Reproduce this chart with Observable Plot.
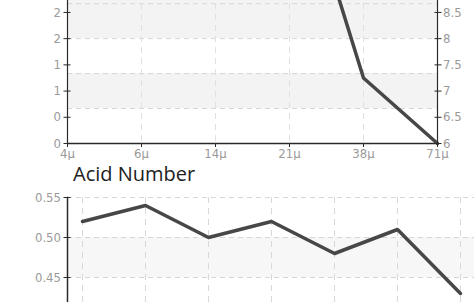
<!DOCTYPE html>
<html>
<head>
<meta charset="utf-8">
<script src="https://cdn.jsdelivr.net/npm/d3@7"></script>
<script src="https://cdn.jsdelivr.net/npm/@observablehq/plot@0.6"></script>
<style>
html,body{margin:0;padding:0;background:#fff;}
#wrap{position:relative;width:474px;height:302px;overflow:hidden;background:#fff;}
#top{position:absolute;left:0;top:-30px;}
#title{position:absolute;left:73px;top:164px;font-family:"Open Sans",sans-serif;font-size:20px;line-height:20px;color:#222;white-space:nowrap;}
#bottom{position:absolute;left:0;top:187px;}
</style>
</head>
<body>
<div id="wrap">
  <div id="top"></div>
  <div id="title">Acid Number</div>
  <div id="bottom"></div>
</div>
<script>
// ---- data: top chart (dual axis) ----
const xLabels = ["4μ", "6μ", "14μ", "21μ", "38μ", "71μ"];
const topValues = [12.4, 12.9, 12.1, 11.8, 7.25, 6.0];   // first values lie above the visible area
const rightTicks = [6, 6.5, 7, 7.5, 8, 8.5];
const leftTickLabels = ["0", "0", "1", "1", "2", "2"];
const topGridY = [6.667, 7.333, 8, 8.667];
const topBandLo = [6.667, 8];
const topBandHi = [7.333, 9.3];

// ---- data: Acid Number ----
const acidX = ["p1", "p2", "p3", "p4", "p5", "p6", "p7"];
const acidValues = [0.52, 0.54, 0.50, 0.52, 0.48, 0.51, 0.43];
const acidTicks = [0.45, 0.50, 0.55];
const acidBandLo = [0.45];
const acidBandHi = [0.50];

const font = '"DejaVu Sans Condensed","DejaVu Sans",sans-serif';
const labelColor = "#9a9a9a";
const axisColor = "#2a2a2a";
const gridColor = "#d6d6d6";
const lineColor = "#474747";

const topChart = Plot.plot({
  width: 474, height: 190,
  marginLeft: 67, marginRight: 37, marginTop: 0, marginBottom: 17,
  style: {fontFamily: font, fontSize: "13px", background: "transparent"},
  x: {type: "point", domain: xLabels, padding: 0},
  y: {domain: [6, 9.3]},
  marks: [
    Plot.rect(topBandLo, {y1: d => d, y2: (d, i) => topBandHi[i], fill: "#f3f3f3"}),
    Plot.ruleY(topGridY, {stroke: gridColor, strokeDasharray: "5,4"}),
    Plot.ruleX(xLabels.slice(1, -1), {stroke: "#e0e0e0", strokeDasharray: "6,5"}),
    Plot.line(xLabels, {x: d => d, y: (d, i) => topValues[i], stroke: lineColor, strokeWidth: 3.5}),
    Plot.ruleY([6], {stroke: axisColor, strokeWidth: 1.5}),
    Plot.ruleX([xLabels[0], xLabels[xLabels.length - 1]], {stroke: axisColor, strokeWidth: 1.2}),
    Plot.axisX({tickSize: 4, tickPadding: 1, fill: labelColor, stroke: axisColor, label: null}),
    Plot.axisY({anchor: "left", ticks: rightTicks, tickFormat: d => leftTickLabels[rightTicks.indexOf(d)],
      tickSize: 7, dx: 3.5, tickPadding: 3, fill: labelColor, stroke: axisColor, label: null}),
    Plot.axisY({anchor: "right", ticks: rightTicks, tickFormat: d => `${d}`,
      tickSize: 7, dx: -3.5, tickPadding: 2, fill: labelColor, stroke: axisColor, label: null})
  ]
});
document.getElementById("top").appendChild(topChart);

const acidChart = Plot.plot({
  width: 474, height: 160,
  marginLeft: 67, marginRight: 0, marginTop: 10, marginBottom: 30,
  style: {fontFamily: font, fontSize: "13px", background: "transparent"},
  x: {type: "point", domain: acidX, padding: 0.2, axis: null},
  y: {domain: [0.40, 0.55]},
  marks: [
    Plot.rect(acidBandLo, {y1: d => d, y2: (d, i) => acidBandHi[i], fill: "#f7f7f7"}),
    Plot.ruleY(acidTicks, {stroke: gridColor, strokeDasharray: "5,4"}),
    Plot.ruleX(acidX, {stroke: "#d8d8d8", strokeDasharray: "6,5"}),
    Plot.line(acidX, {x: d => d, y: (d, i) => acidValues[i], stroke: lineColor, strokeWidth: 3.5}),
    Plot.frame({anchor: "left", stroke: axisColor, strokeWidth: 1.5}),
    Plot.axisY({anchor: "left", ticks: acidTicks, tickFormat: d3.format(".2f"),
      tickSize: 7, dx: 3.5, tickPadding: 3, fill: labelColor, stroke: axisColor, label: null})
  ]
});
document.getElementById("bottom").appendChild(acidChart);
</script>
</body>
</html>
